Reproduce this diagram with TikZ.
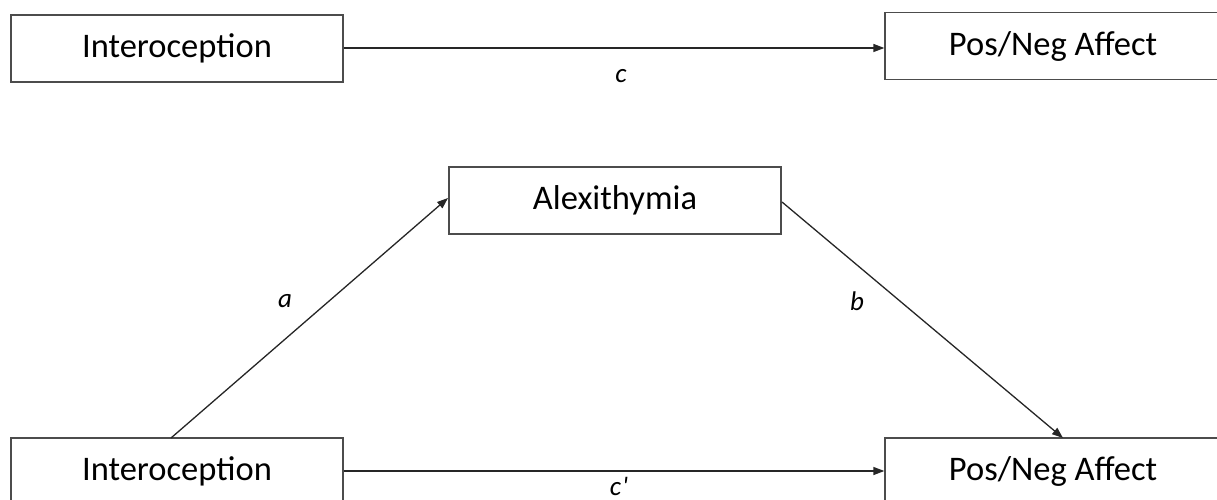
\documentclass[tikz,border=0pt]{standalone}
\usepackage{fontspec}
\setmainfont{Carlito}
\usetikzlibrary{arrows.meta}
\begin{document}
\begin{tikzpicture}[x=1pt,y=-1pt,
  box/.style={draw=black!70, line width=1.3pt, minimum width=332pt, minimum height=67pt, inner sep=0pt, font=\fontsize{34.5}{37}\selectfont},
  conn/.style={draw=black!85, line width=1.3pt, -{Triangle[length=11pt,width=8pt]}},
  lbl/.style={font=\fontsize{27}{30}\selectfont\itshape, inner sep=1pt}]
\useasboundingbox (0,0) rectangle (1217,500);
\clip (0,0) rectangle (1217,500);
\node[box] (i1) at (177,48.5) {Interoception};
\node[box, minimum width=336pt] (p1) at (1053,46) {Pos/Neg Affect};
\node[box] (al) at (615,200.5) {Alexithymia};
\node[box] (i2) at (177,471.5) {Interoception};
\node[box, minimum width=336pt] (p2) at (1053,471.5) {Pos/Neg Affect};
\coordinate (as) at (171,438);
\coordinate (ae) at (448,198);
\coordinate (bs) at (782,202);
\coordinate (be) at (1063,438);
\draw[conn] (i1.east |- 0,48) -- (p1.west |- 0,48);
\draw[conn] (as) -- (ae);
\draw[conn] (bs) -- (be);
\draw[conn] (i2.east |- 0,471) -- (p2.west |- 0,471);
\node[lbl] (lc) at (621,76) {c};
\node[lbl] (la) at (285,301) {a};
\node[lbl] (lb) at (857,301) {b};
\node[lbl] (lcp) at (619,486) {c\kern1pt\textquotesingle};
\end{tikzpicture}
\end{document}
